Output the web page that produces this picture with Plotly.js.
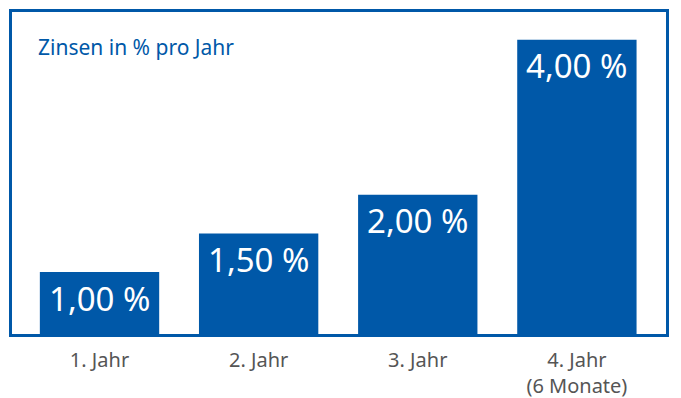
<!DOCTYPE html>
<html>
<head>
<meta charset="utf-8">
<script src="https://cdn.plot.ly/plotly-3.0.1.min.js"></script>
<style>html,body{margin:0;padding:0;background:#fff;}#chart{width:681px;height:398px;}</style>
</head>
<body>
<div id="chart"></div>
<script>
var categories = ["1. Jahr", "2. Jahr", "3. Jahr", "4. Jahr<br>(6 Monate)"];
var rates = [1.00, 1.50, 2.00, 4.00];
var rateLabels = ["1,00 %", "1,50 %", "2,00 %", "4,00 %"];
var chartTitle = "Zinsen in % pro Jahr";

var BLUE = "#0058A8";
var FONT = "Noto Sans, Open Sans, sans-serif";

var trace = {
  type: "bar",
  x: categories,
  y: rates,
  width: 0.75,
  marker: {color: BLUE, line: {width: 0}},
  hoverinfo: "none"
};

var annotations = categories.map(function (c, i) {
  return {
    x: c, y: rates[i], xref: "x", yref: "y",
    text: rateLabels[i], showarrow: false,
    yanchor: "middle", xanchor: "center", yshift: -26,
    font: {family: FONT, size: 33, color: "#ffffff"}
  };
});

var layout = {
  width: 681, height: 398,
  margin: {l: 12, r: 15, t: 12, b: 64, pad: 0},
  paper_bgcolor: "#ffffff",
  plot_bgcolor: "#ffffff",
  showlegend: false,
  title: {
    text: chartTitle,
    font: {family: FONT, size: 21, color: BLUE},
    xref: "container", yref: "container",
    x: 38 / 681, xanchor: "left",
    y: 1 - 48 / 398, yanchor: "middle"
  },
  xaxis: {
    type: "category",
    range: [-0.55, 3.56],
    showgrid: false, zeroline: false, showline: false,
    ticks: "", fixedrange: true,
    ticklabelstandoff: 12,
    tickfont: {family: FONT, size: 20, color: "#555555"}
  },
  yaxis: {
    range: [0.2, 4.36],
    showgrid: false, zeroline: false, showline: false,
    showticklabels: false, ticks: "", fixedrange: true
  },
  shapes: [{
    type: "rect", xref: "paper", yref: "paper",
    x0: -1.5 / 654, x1: 1 + 1.5 / 654,
    y0: -1.5 / 322, y1: 1 + 1.5 / 322,
    line: {color: BLUE, width: 3},
    fillcolor: "rgba(0,0,0,0)",
    layer: "above"
  }],
  annotations: annotations
};

Plotly.newPlot("chart", [trace], layout, {displayModeBar: false, staticPlot: true});
</script>
</body>
</html>
